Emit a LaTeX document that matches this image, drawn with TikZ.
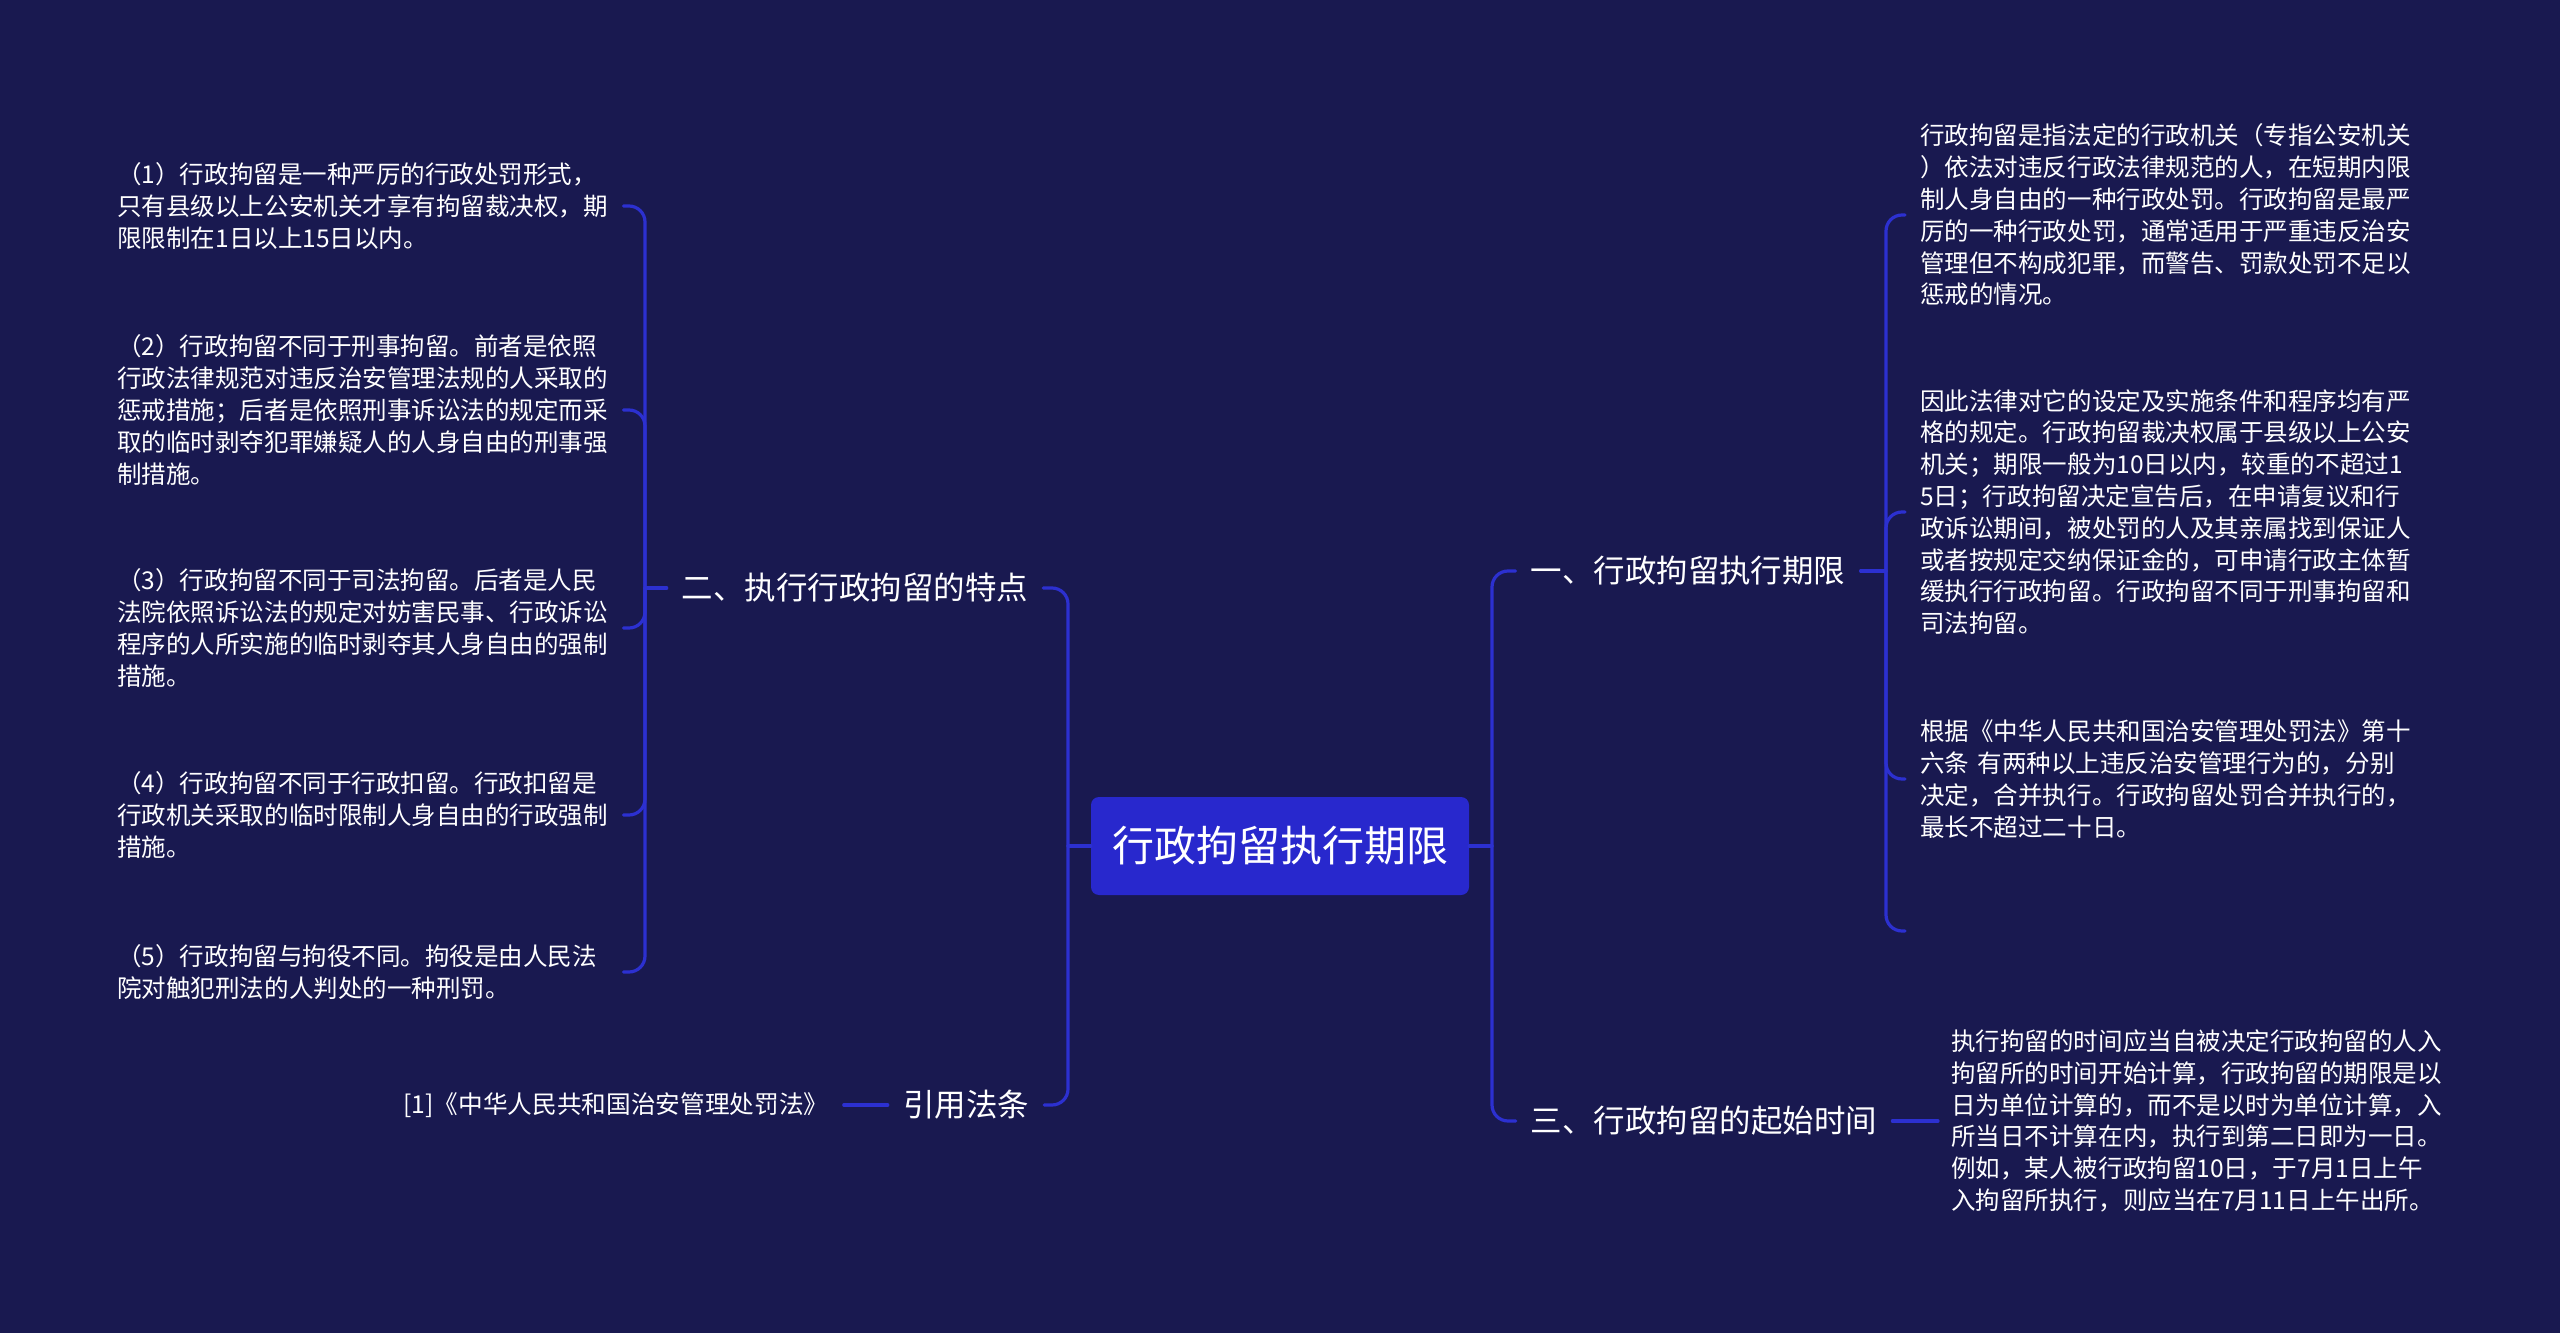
\documentclass[tikz,border=0pt]{standalone}
\usepackage{fontspec}
\setmainfont{Noto Sans CJK SC}
\usetikzlibrary{calc}
\definecolor{bg}{RGB}{25,25,80}
\definecolor{ln}{RGB}{44,48,208}
\definecolor{boxc}{RGB}{40,40,205}
\begin{document}
\begin{tikzpicture}[x=0.75pt,y=-0.75pt,
  conn/.style={draw=ln, line width=2.4pt, line cap=round},
  bracket/.style={conn, rounded corners=12pt},
  leaf/.style={text=white, font=\fontsize{18.4pt}{23.85pt}\selectfont, align=left, text width=378.75pt, inner sep=0pt, anchor=west},
  topic/.style={text=white, font=\fontsize{23.6pt}{28pt}\selectfont, inner xsep=11.25pt, inner ysep=0pt},
  centre/.style={fill=boxc, rounded corners=6pt, text=white, font=\fontsize{31.5pt}{36pt}\selectfont, minimum width=283.5pt, minimum height=73.5pt, inner sep=0pt},
  reftext/.style={text=white, font=\fontsize{18.5pt}{22pt}\selectfont, inner xsep=11.25pt, inner ysep=0pt}
]
\useasboundingbox (0,0) rectangle (2560,1333);
\fill[bg] (0,0) rectangle (2560,1333);

% central node
\node[centre] (c) at (1280,846) {行政拘留执行期限};

% main topics
\node[topic] (n2) at (855,588) {二、执行行政拘留的特点};
\node[topic] (ref) at (966,1105) {引用法条};
\node[topic] (n1) at (1688,571) {一、行政拘留执行期限};
\node[topic] (n3) at (1704,1121) {三、行政拘留的起始时间};

% reference leaf
\node[reftext] (r1) at (616,1105) {[1]《中华人民共和国治安管理处罚法》};

% left leaves
\node[leaf] (a1) at (117,206) {（1）行政拘留是一种严厉的行政处罚形式，\\只有县级以上公安机关才享有拘留裁决权，期\\限限制在1日以上15日以内。};
\node[leaf] (a2) at (117,410) {（2）行政拘留不同于刑事拘留。前者是依照\\行政法律规范对违反治安管理法规的人采取的\\惩戒措施；后者是依照刑事诉讼法的规定而采\\取的临时剥夺犯罪嫌疑人的人身自由的刑事强\\制措施。};
\node[leaf] (a3) at (117,628) {（3）行政拘留不同于司法拘留。后者是人民\\法院依照诉讼法的规定对妨害民事、行政诉讼\\程序的人所实施的临时剥夺其人身自由的强制\\措施。};
\node[leaf] (a4) at (117,815) {（4）行政拘留不同于行政扣留。行政扣留是\\行政机关采取的临时限制人身自由的行政强制\\措施。};
\node[leaf] (a5) at (117,972) {（5）行政拘留与拘役不同。拘役是由人民法\\院对触犯刑法的人判处的一种刑罚。};

% right leaves
\node[leaf] (b1) at (1920,215) {行政拘留是指法定的行政机关（专指公安机关\\）依法对违反行政法律规范的人，在短期内限\\制人身自由的一种行政处罚。行政拘留是最严\\厉的一种行政处罚，通常适用于严重违反治安\\管理但不构成犯罪，而警告、罚款处罚不足以\\惩戒的情况。};
\node[leaf] (b2) at (1920,512) {因此法律对它的设定及实施条件和程序均有严\\格的规定。行政拘留裁决权属于县级以上公安\\机关；期限一般为10日以内，较重的不超过1\\5日；行政拘留决定宣告后，在申请复议和行\\政诉讼期间，被处罚的人及其亲属找到保证人\\或者按规定交纳保证金的，可申请行政主体暂\\缓执行行政拘留。行政拘留不同于刑事拘留和\\司法拘留。};
\node[leaf] (b3) at (1920,779) {根据《中华人民共和国治安管理处罚法》第十\\六条 有两种以上违反治安管理行为的，分别\\决定，合并执行。行政拘留处罚合并执行的，\\最长不超过二十日。};
\coordinate (b4) at (1905,931);

\node[leaf] (c1) at (1951,1121) {执行拘留的时间应当自被决定行政拘留的人入\\拘留所的时间开始计算，行政拘留的期限是以\\日为单位计算的，而不是以时为单位计算，入\\所当日不计算在内，执行到第二日即为一日。\\例如，某人被行政拘留10日，于7月1日上午\\入拘留所执行，则应当在7月11日上午出所。};

% junctions
\coordinate (jL) at (1068,846);
\coordinate (jR) at (1492,846);
\coordinate (j2) at (645,588);
\coordinate (j1) at (1886,571);

% connectors
\draw[conn] (c.west) -- (jL);
\draw[bracket] (jL) |- (n2.east);
\draw[bracket] (jL) |- (ref.east);
\draw[conn] (c.east) -- (jR);
\draw[bracket] (jR) |- (n1.west);
\draw[bracket] (jR) |- (n3.west);

\draw[conn] (n2.west) -- (j2);
\foreach \k in {a1,a2,a3,a4,a5}
  \draw[bracket] (j2) |- ($(\k.east)+(1,0)$);

\draw[conn] (n1.east) -- (j1);
\foreach \k in {b1,b2,b3}
  \draw[bracket] (j1) |- ($(\k.west)+(-15,0)$);
\draw[bracket] (j1) |- (b4);

\draw[conn] (n3.east) -- ($(c1.west)+(-13,0)$);
\draw[conn] (ref.west) -- (r1.east);
\end{tikzpicture}
\end{document}
